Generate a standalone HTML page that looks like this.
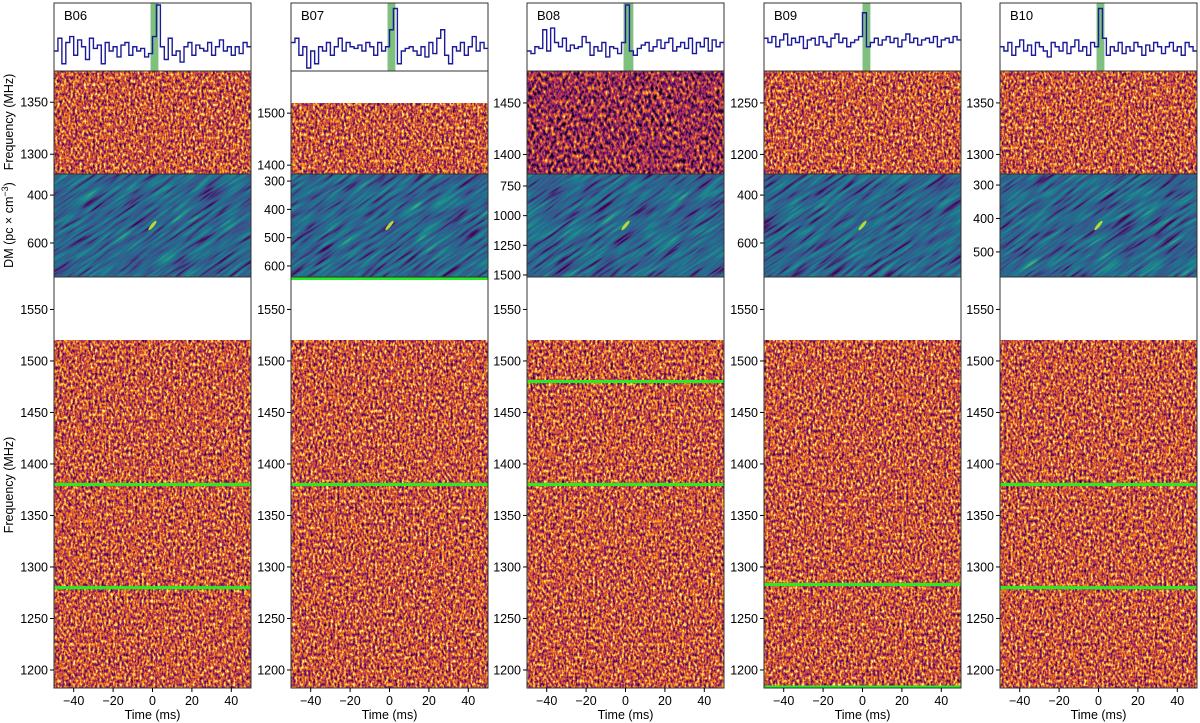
<!DOCTYPE html>
<html><head><meta charset="utf-8"><style>
html,body{margin:0;padding:0;background:#fff}
svg{display:block;font-family:"Liberation Sans","DejaVu Sans",sans-serif}
</style></head><body>
<svg id="fig" width="1200" height="723" viewBox="0 0 1200 723">
<defs>
<filter id="inf" x="0" y="0" width="1" height="1" color-interpolation-filters="sRGB">
<feTurbulence type="fractalNoise" baseFrequency="0.45 0.3" numOctaves="2" seed="3"/>
<feColorMatrix type="matrix" values="1.55 0 0 0 -0.2  1.55 0 0 0 -0.2  1.55 0 0 0 -0.2  0 0 0 0 1"/>
<feComponentTransfer><feFuncR type="table" tableValues="0 0.34 0.74 0.98 0.99"/><feFuncG type="table" tableValues="0 0.06 0.22 0.56 1"/><feFuncB type="table" tableValues="0.02 0.43 0.33 0.04 0.64"/></feComponentTransfer>
</filter>
<filter id="infd" x="0" y="0" width="1" height="1" color-interpolation-filters="sRGB">
<feTurbulence type="fractalNoise" baseFrequency="0.35 0.22" numOctaves="2" seed="7"/>
<feColorMatrix type="matrix" values="1.6 0 0 0 -0.38  1.6 0 0 0 -0.38  1.6 0 0 0 -0.38  0 0 0 0 1"/>
<feComponentTransfer><feFuncR type="table" tableValues="0 0.34 0.74 0.98 0.99"/><feFuncG type="table" tableValues="0 0.06 0.22 0.56 1"/><feFuncB type="table" tableValues="0.02 0.43 0.33 0.04 0.64"/></feComponentTransfer>
</filter>
<filter id="vir" x="0" y="0" width="1" height="1" color-interpolation-filters="sRGB">
<feTurbulence type="fractalNoise" baseFrequency="0.03 0.3" numOctaves="2" seed="5"/>
<feColorMatrix type="matrix" values="1.3 0 0 0 -0.25  1.3 0 0 0 -0.25  1.3 0 0 0 -0.25  0 0 0 0 1"/>
<feComponentTransfer><feFuncR type="table" tableValues="0.27 0.23 0.13 0.12 0.37"/><feFuncG type="table" tableValues="0.0 0.32 0.45 0.57 0.78"/><feFuncB type="table" tableValues="0.33 0.55 0.56 0.55 0.38"/></feComponentTransfer>
</filter>
</defs>
</svg>
<script>
const names=["B06","B07","B08","B09","B10"];
const panelX=[54,291,527,764,1000];
const upperRange=[[1281,1380],[1383,1581],[1381,1481],[1181,1281],[1281,1381]];
const upperData=[[1281,1380],[1383,1519],[1381,1481],[1181,1281],[1281,1381]];
const upperTicks=[[1300,1350],[1400,1500],[1400,1450],[1200,1250],[1300,1350]];
const dmRange=[[312,742],[275,639],[649,1517],[312,742],[267,575]];
const dmTicks=[[400,600],[300,400,500,600],[750,1000,1250,1500],[400,600],[300,400,500]];
const lowerRange=[1182.5,1581.5];
const lowerDataTop=1520;
const lowerTicks=[1200,1250,1300,1350,1400,1450,1500,1550];
const flaggedLines=[[1380,1280],[1380,1580],[1480,1380],[1283,1181],[1380,1280]];
const timeTicks=[-40,-20,0,20,40];
const bandStart=[-1,-1,-1,0,-1];
const bandEnd=[3,3,4,4,3];
const prof06=[.45,.6,.3,.55,.62,.4,.58,.5,.35,.6,.48,.52,.3,.55,.45,.5,.38,.52,.55,.4,.5,.45,.48,.38,.42,.62,1,.5,.35,.6,.4,.45,.32,.5,.55,.4,.52,.48,.45,.55,.4,.5,.58,.45,.5,.4,.5,.42,.55,.5];
const prof07=[.55,.6,.4,.5,.25,.45,.3,.5,.45,.55,.4,.5,.6,.45,.55,.5,.48,.52,.45,.55,.5,.4,.55,.45,.5,.7,.95,.3,.45,.48,.5,.45,.4,.5,.38,.55,.42,.6,.7,.4,.3,.5,.45,.55,.4,.5,.62,.45,.55,.48];
const prof08=[.45,.42,.5,.48,.7,.45,.72,.55,.5,.6,.45,.52,.48,.5,.62,.55,.4,.5,.45,.55,.38,.5,.48,.42,.55,1,.45,.4,.48,.52,.55,.45,.5,.58,.48,.55,.6,.45,.5,.55,.48,.6,.42,.55,.5,.6,.45,.58,.5,.55];
const prof09=[.6,.55,.62,.5,.58,.65,.52,.6,.55,.62,.48,.58,.6,.52,.62,.55,.5,.6,.65,.55,.6,.5,.55,.58,.62,.9,.5,.55,.6,.52,.58,.62,.55,.6,.5,.58,.65,.55,.6,.52,.58,.6,.55,.62,.5,.58,.6,.55,.62,.58];
const prof10=[.5,.45,.55,.4,.5,.58,.45,.52,.4,.55,.5,.45,.38,.55,.5,.45,.55,.42,.5,.58,.45,.5,.4,.55,.5,.95,.6,.4,.5,.45,.55,.42,.5,.45,.55,.5,.4,.52,.45,.55,.5,.42,.5,.55,.45,.5,.4,.55,.5,.45];
const profiles=[prof06,prof07,prof08,prof09,prof10];
const W=197;
const svg=document.getElementById('fig');
const NS='http://www.w3.org/2000/svg';
function mk(tag,attrs,parent){const e=document.createElementNS(NS,tag);for(const k in attrs)e.setAttribute(k,attrs[k]);(parent||svg).appendChild(e);return e;}
function txt(s,attrs,parent){const e=mk('text',attrs,parent);e.textContent=s;return e;}
const T0=3,T1=71,U1=174,D1=277,L1=688;
for(let i=0;i<5;i++){
  const x0=panelX[i];
  const g=mk('g',{});
  
  
  const xs=t=>x0+(t+50)/100*W;
  const band=mk('rect',{x:xs(bandStart[i]),y:T0,width:xs(bandEnd[i])-xs(bandStart[i]),height:T1-T0,fill:'#7fc07f'},g);
  
  
  const p=profiles[i];const py=v=>Math.min(68,Math.max(5,68-(v-0.25)*85));
  let d='';p.forEach((v,k)=>{const a=xs(-50+k*2),b=xs(-48+k*2);d+=(k?'L':'M')+a+' '+py(v)+'L'+b+' '+py(v);});
  const pl=mk('path',{d:d,fill:'none',stroke:'#1a1a9a','stroke-width':1.4},g);
  
  
  mk('rect',{x:x0,y:T0,width:W,height:T1-T0,fill:'none',stroke:'#333','stroke-width':1},g);
  const lb=txt(names[i],{x:x0+10,y:20,'font-size':13,fill:'#000'},g);
  
  
  const ur=upperRange[i],ud=upperData[i];
  const uy=f=>U1-(f-ur[0])/(ur[1]-ur[0])*(U1-T1);
  const uh=mk('rect',{x:x0,y:uy(ud[1]),width:W,height:uy(ud[0])-uy(ud[1]),filter:i==2?'url(#infd)':'url(#inf)'},g);
  
  
  mk('rect',{x:x0,y:T1,width:W,height:U1-T1,fill:'none',stroke:'#333'},g);
  upperTicks[i].forEach(f=>{const y=uy(f);mk('line',{x1:x0-4,x2:x0,y1:y,y2:y,stroke:'#000'},g);
    const t=txt(f,{x:x0-6,y:y+4.5,'font-size':12.5,'text-anchor':'end'},g);
    });
  const dr=dmRange[i];const dy=v=>U1+(v-dr[0])/(dr[1]-dr[0])*(D1-U1);
  const cp=mk('clipPath',{id:'c'+i},g);mk('rect',{x:x0,y:U1,width:W,height:D1-U1},cp);
  const dg=mk('g',{'clip-path':'url(#c'+i+')'},g);
  const dh=mk('rect',{x:x0-80,y:U1-150,width:W+160,height:400,filter:'url(#vir)',transform:`rotate(-35 ${x0+W/2} ${(U1+D1)/2})`},dg);
  
  
  mk('ellipse',{cx:xs(0),cy:(U1+D1)/2,rx:6,ry:1.6,fill:'#b5dc36',transform:`rotate(-50 ${xs(0)} ${(U1+D1)/2})`},dg);
  mk('rect',{x:x0,y:U1,width:W,height:D1-U1,fill:'none',stroke:'#333'},g);
  dmTicks[i].forEach(v=>{const y=dy(v);mk('line',{x1:x0-4,x2:x0,y1:y,y2:y,stroke:'#000'},g);
    const t=txt(v,{x:x0-6,y:y+4.5,'font-size':12.5,'text-anchor':'end'},g);
    });
  const ly=f=>L1-(f-lowerRange[0])/(lowerRange[1]-lowerRange[0])*(L1-D1);
  const lh=mk('rect',{x:x0,y:ly(lowerDataTop),width:W,height:L1-ly(lowerDataTop),filter:'url(#inf)'},g);
  
  
  flaggedLines[i].forEach(f=>{const y=Math.min(Math.max(ly(f),D1+1),L1-1);const l=mk('line',{x1:x0,x2:x0+W,y1:y,y2:y,stroke:'#22ee22','stroke-width':3},g);
    });
  mk('rect',{x:x0,y:D1,width:W,height:L1-D1,fill:'none',stroke:'#333'},g);
  lowerTicks.forEach(f=>{const y=ly(f);mk('line',{x1:x0-4,x2:x0,y1:y,y2:y,stroke:'#000'},g);
    const t=txt(f,{x:x0-6,y:y+4.5,'font-size':12.5,'text-anchor':'end'},g);
    });
  timeTicks.forEach(v=>{const x=xs(v);mk('line',{x1:x,x2:x,y1:L1,y2:L1+4,stroke:'#000'},g);
    const t=txt(v<0?'\u2212'+(-v):v,{x:x,y:L1+17,'font-size':12.5,'text-anchor':'middle'},g);
    });
  const xl=txt('Time (ms)',{x:x0+W/2,y:719,'font-size':12.5,'text-anchor':'middle'},g);
  
}
const a1=txt('Frequency (MHz)',{x:0,y:0,'font-size':12.5,'text-anchor':'middle',transform:'translate(13,122) rotate(-90)'});

const a2=mk('text',{x:0,y:0,'font-size':12.5,'text-anchor':'middle',transform:'translate(13,225) rotate(-90)'});
a2.textContent='DM (pc \u00d7 cm';const sp=mk('tspan',{dy:-5,'font-size':9},a2);sp.textContent='\u22123';const sp2=mk('tspan',{dy:5},a2);sp2.textContent=')';

const a3=txt('Frequency (MHz)',{x:0,y:0,'font-size':12.5,'text-anchor':'middle',transform:'translate(13,485) rotate(-90)'});

</script>
</body></html>
